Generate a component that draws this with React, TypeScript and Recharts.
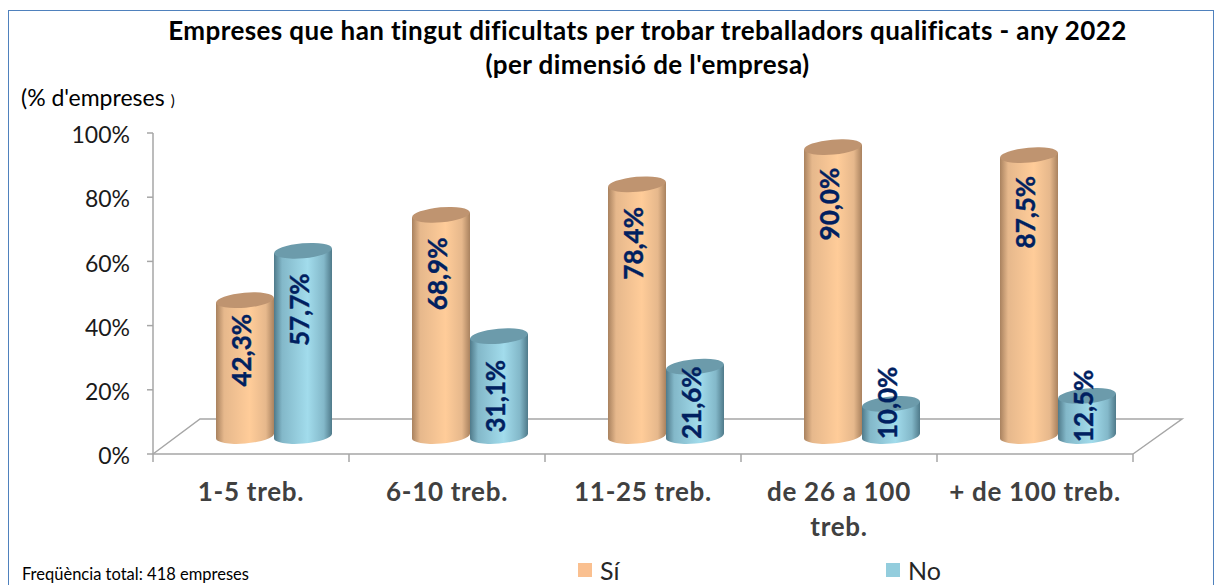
import { Bar, BarChart, LabelList, Legend, XAxis, YAxis, usePlotArea } from 'recharts';

const categories = ['1-5 treb.', '6-10 treb.', '11-25 treb.', 'de 26 a 100 treb.', '+ de 100 treb.'];
const siValues = [42.3, 68.9, 78.4, 90.0, 87.5];
const noValues = [57.7, 31.1, 21.6, 10.0, 12.5];
const yTicks = [0, 20, 40, 60, 80, 100];

// hand-placed labels in the original: drop from the top of each cylinder
const siLabelDrop = [50, 59, 59, 57, 57];
const noLabelDrop = [59, 60, 36, -1, 10];

const chartData = categories.map((name, i) => ({ name, si: siValues[i], no: noValues[i] }));

const FONT = 'Lato, Carlito, sans-serif';
const AXIS_COLOR = '#a6a6a6';
const LABEL_COLOR = '#002060';

// the 3D look: cylinders stand forward-right of the axis plane
const DEPTH_X = 47;
const DEPTH_Y = 35;
const SHIFT_X = 23;
const SHIFT_Y = -18;

const PALETTE = {
  si: { edge: '#a9825f', mid: '#e6b88c', light: '#ffcc99', top: '#bf9470', legend: '#fac090' },
  no: { edge: '#4f7a8a', mid: '#83b8c9', light: '#a2dcec', top: '#6c9bab', legend: '#93cddd' },
};

function Cylinder({ x, y, width, height, index, tone }: any) {
  const colors = PALETTE[tone as 'si' | 'no'];
  const id = `cyl-${tone}-${index}`;
  const left = x + SHIFT_X;
  const right = left + width;
  const rx = width / 2;
  const ry = 7.5;
  const tilt = 2.4;
  const top = y + SHIFT_Y;
  const base = y + height + SHIFT_Y;
  const body = `M${left},${top + tilt} L${left},${base + tilt} A${rx},${ry} -5 0 0 ${right},${base - tilt} L${right},${top - tilt} Z`;
  return (
    <g>
      <defs>
        <linearGradient id={id} x1="0" x2="1" y1="0" y2="0">
          <stop offset="0%" stopColor={colors.edge} />
          <stop offset="14%" stopColor={colors.mid} />
          <stop offset="58%" stopColor={colors.light} />
          <stop offset="86%" stopColor={colors.mid} />
          <stop offset="100%" stopColor={colors.edge} />
        </linearGradient>
      </defs>
      <path d={body} fill={`url(#${id})`} />
      <ellipse
        cx={left + rx}
        cy={top}
        rx={rx}
        ry={ry}
        fill={colors.top}
        transform={`rotate(-5 ${left + rx} ${top})`}
      />
    </g>
  );
}

function makeLabel(drops: number[]) {
  return function ValueLabel({ x, y, width, index, value }: any) {
    const cx = x + SHIFT_X + width / 2 - 4;
    const cy = y + SHIFT_Y + drops[index];
    return (
      <text
        x={cx}
        y={cy}
        transform={`rotate(-90 ${cx} ${cy})`}
        textAnchor="middle"
        dominantBaseline="central"
        fontFamily={FONT}
        fontWeight={700}
        fontSize={26}
        fill={LABEL_COLOR}
        stroke={LABEL_COLOR}
        strokeWidth={0.4}
      >
        {`${Number(value).toFixed(1).replace('.', ',')}%`}
      </text>
    );
  };
}

function Floor() {
  const plot = usePlotArea();
  if (!plot) return null;
  const bottom = plot.y + plot.height;
  const right = plot.x + plot.width;
  const back = bottom - DEPTH_Y;
  const step = plot.width / categories.length;
  return (
    <g>
      <polyline
        points={`${plot.x},${bottom} ${plot.x + DEPTH_X},${back} ${right + DEPTH_X + 2},${back} ${right},${bottom}`}
        fill="none"
        stroke={AXIS_COLOR}
        strokeWidth={1.5}
      />
      {[...categories, ''].map((_, i) => (
        <line
          key={i}
          x1={plot.x + step * i}
          x2={plot.x + step * i}
          y1={bottom}
          y2={bottom + 8}
          stroke={AXIS_COLOR}
          strokeWidth={1.5}
        />
      ))}
    </g>
  );
}

// only the longest label breaks, before its last word
function CategoryTick({ x, y, payload }: any) {
  const label: string = payload.value;
  const cut = label.lastIndexOf(' ');
  const lines = label.length > 14 ? [label.slice(0, cut), label.slice(cut + 1)] : [label];
  return (
    <text
      x={x}
      y={y + 39}
      textAnchor="middle"
      fontFamily={FONT}
      fontWeight={700}
      fontSize={26}
      letterSpacing={0.7}
      fill="#404040"
    >
      {lines.map((line, i) => (
        <tspan key={line} x={x} dy={i === 0 ? 0 : 35}>
          {line}
        </tspan>
      ))}
    </text>
  );
}

function LegendRow({ payload }: any) {
  const spots = [578, 886];
  return (
    <div style={{ position: 'relative', height: 30, width: 1215 }}>
      {(payload ?? []).map((item: any, i: number) => (
        <div
          key={item.value}
          style={{ position: 'absolute', left: spots[i], top: 0, display: 'flex', alignItems: 'center', height: 30 }}
        >
          <span style={{ width: 14, height: 14, background: item.color, marginRight: 8 }} />
          <span style={{ fontFamily: FONT, fontSize: 25, color: '#262626' }}>{item.value}</span>
        </div>
      ))}
    </div>
  );
}

export default function App() {
  return (
    <div style={{ position: 'absolute', left: 0, top: 0, width: 1215, height: 585, overflow: 'hidden', background: '#fff' }}>
      <div
        style={{
          position: 'absolute',
          left: 8,
          top: 10,
          width: 1204,
          height: 600,
          border: '1px solid #4f81bd',
        }}
      />
      <div
        style={{
          position: 'absolute',
          left: 0,
          top: 13,
          width: 1295,
          textAlign: 'center',
          fontFamily: FONT,
          fontWeight: 700,
          fontSize: 26,
          letterSpacing: 0.4,
          lineHeight: '34px',
          color: '#000',
        }}
      >
        Empreses que han tingut dificultats per trobar treballadors qualificats - any 2022
        <br />
        (per dimensió de l'empresa)
      </div>
      <div style={{ position: 'absolute', left: 21, top: 83, fontFamily: FONT, fontSize: 23, color: '#000' }}>
        (% d'empreses<span style={{ fontSize: 15, marginLeft: 6 }}>)</span>
      </div>
      <div style={{ position: 'absolute', left: 22, top: 564, fontFamily: FONT, fontSize: 16.5, color: '#000', whiteSpace: 'nowrap' }}>
        Freqüència total: 418 empreses
      </div>
      <BarChart
        width={1215}
        height={585}
        data={chartData}
        margin={{ top: 133, right: 82, bottom: 0, left: 0 }}
        barGap={0}
        barSize={58}
        style={{ position: 'absolute', left: 0, top: 0 }}
      >
        <Floor />
        <XAxis
          dataKey="name"
          height={131}
          interval={0}
          tick={<CategoryTick />}
          tickLine={false}
          stroke={AXIS_COLOR}
          strokeWidth={1.5}
        />
        <YAxis
          width={153}
          domain={[0, 100]}
          ticks={yTicks}
          tickFormatter={(v: number) => `${v}%`}
          tickSize={6}
          tickMargin={17}
          stroke={AXIS_COLOR}
          strokeWidth={1.5}
          tick={{ fill: '#1a1a1a', fontFamily: FONT, fontSize: 23, dy: 2 }}
        />
        <Legend
          layout="vertical"
          align="center"
          verticalAlign="middle"
          itemSorter={null}
          content={<LegendRow />}
          wrapperStyle={{ left: 0, top: 555, width: 1215 }}
        />
        <Bar dataKey="si" name="Sí" fill={PALETTE.si.legend} shape={<Cylinder tone="si" />} isAnimationActive={false}>
          <LabelList dataKey="si" content={makeLabel(siLabelDrop)} />
        </Bar>
        <Bar dataKey="no" name="No" fill={PALETTE.no.legend} shape={<Cylinder tone="no" />} isAnimationActive={false}>
          <LabelList dataKey="no" content={makeLabel(noLabelDrop)} />
        </Bar>
      </BarChart>
    </div>
  );
}
